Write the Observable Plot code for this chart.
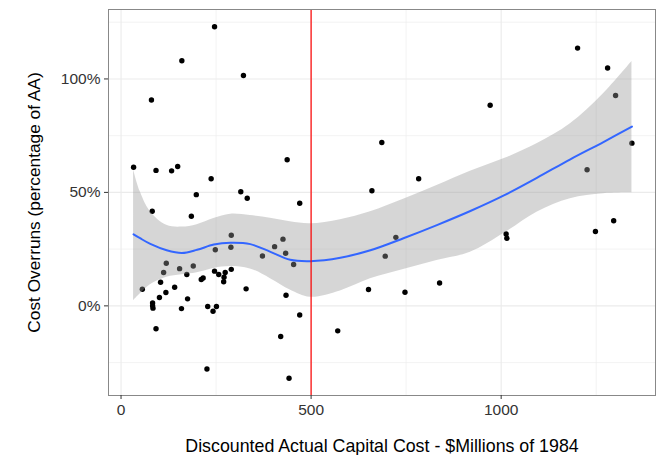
<!DOCTYPE html>
<html><head><meta charset="utf-8">
<script src="https://cdn.jsdelivr.net/npm/d3@7"></script>
<script src="https://cdn.jsdelivr.net/npm/@observablehq/plot@0.6"></script>
<style>body{margin:0;background:#fff}</style>
</head><body><div id="chart"></div>
<script>
// Scatter points: discounted actual capital cost ($M 1984) and cost overrun (%)
const cost = [246,160,322,80,33,92,133,149,437,237,198,315,332,82,185,470,290,289,248,426,404,433,372,454,119,112,154,173,190,211,216,246,257,271,274,270,290,329,434,56,104,118,141,101,175,83,83,84,159,228,251,242,470,92,420,226,442,660,783,723,695,651,747,838,570,686,1201,1280,1301,971,1344,1226,1013,1015,1248,1296];
const overrun = [123,108,101.5,90.7,61.1,59.7,59.5,61.4,64.4,56,49,50.3,47.4,41.7,39.5,45.2,31.1,25.8,24.7,29.4,26.1,23.2,22,18.2,18.8,14.7,16.4,13.8,17.6,11.6,12.3,15.3,13.8,12.6,14.7,10.6,16.1,7.5,4.7,7.3,10.4,5.9,8.2,3.7,3.1,1.3,0,-1,-1.2,-0.3,-0.3,-2.4,-4,-10.1,-13.5,-27.8,-31.9,50.7,56,30.2,21.9,7.2,6,10.1,-11,72,113.6,104.8,92.7,88.4,71.7,60,31.7,29.8,32.8,37.5];

// Smoothed fit with confidence band
const smoothX     = [33, 50, 77, 120, 160, 200, 244, 288, 340, 393, 445, 498, 577, 656, 743, 831, 919, 1010, 1094, 1182, 1269, 1344];
const smoothFit   = [31.5, 29.8, 27.3, 24.5, 23.3, 24.7, 27, 27.8, 27.2, 23.8, 20.3, 19.7, 21.2, 24.5, 29.8, 35.6, 41.8, 48.9, 56.4, 64.6, 72.2, 79];
const smoothLower = [2.3, 5.2, 9.3, 12.6, 13.7, 14.6, 16.5, 17.3, 16.3, 12, 7, 3.8, 6.6, 11.9, 16, 20, 23.6, 32.2, 41.3, 47.2, 49.4, 49.8];
const smoothUpper = [60, 50.5, 41.5, 35.5, 34.7, 35.8, 38.5, 40.4, 39.8, 38.6, 37.1, 36.2, 38, 41.5, 47, 53, 59.3, 65, 71.4, 80.2, 93.5, 107.7];

const xTicks = [0, 500, 1000];
const xMinor = [250, 750, 1250];
const yTicks = [0, 50, 100];
const yMinor = [-25, 25, 75, 125];
const threshold = [500];

const points = cost.map((c, i) => ({cost: c, overrun: overrun[i]}));
const smooth = smoothX.map((x, i) => ({x, fit: smoothFit[i], lower: smoothLower[i], upper: smoothUpper[i]}));

const chart = Plot.plot({
  width: 666, height: 455,
  marginLeft: 108, marginRight: 11, marginTop: 9, marginBottom: 60,
  style: {fontFamily: '"Liberation Sans", Arial, sans-serif', background: "#fff"},
  x: {domain: [-33, 1406]},
  y: {domain: [-39.5, 130.6]},
  marks: [
    Plot.ruleX(xMinor, {stroke: "#ebebeb", strokeWidth: 0.6}),
    Plot.ruleY(yMinor, {stroke: "#ebebeb", strokeWidth: 0.6}),
    Plot.ruleX(xTicks, {stroke: "#ebebeb", strokeWidth: 1.1}),
    Plot.ruleY(yTicks, {stroke: "#ebebeb", strokeWidth: 1.1}),
    Plot.dot(points, {x: "cost", y: "overrun", r: 2.7, fill: "black", stroke: null}),
    Plot.areaY(smooth, {x: "x", y1: "lower", y2: "upper", fill: "#999999", fillOpacity: 0.4, curve: "catmull-rom"}),
    Plot.line(smooth, {x: "x", y: "fit", stroke: "#3366FF", strokeWidth: 2, curve: "catmull-rom"}),
    Plot.ruleX(threshold, {stroke: "red", strokeWidth: 1.2}),
    Plot.frame({stroke: "#888888"}),
    Plot.axisX(xTicks, {tickSize: 4, tickPadding: 4, fontSize: 15.5, fill: "#333", stroke: "#333",
      tickFormat: d => String(d),
      label: "Discounted Actual Capital Cost - $Millions of 1984", labelAnchor: "center", labelOffset: 56, labelArrow: "none"}),
    Plot.axisY(yTicks, {tickSize: 4, tickPadding: 4, fontSize: 15.5, fill: "#333", stroke: "#333",
      tickFormat: d => d + "%",
      label: "Cost Overruns (percentage of AA)", labelAnchor: "center", labelOffset: 81, labelArrow: "none"})
  ]
});
document.getElementById("chart").appendChild(chart);
chart.querySelectorAll('g[aria-label="x-axis label"]').forEach(g => {
  g.setAttribute("font-size", "17.8");
  g.setAttribute("fill", "#000");
});
chart.querySelectorAll('g[aria-label="y-axis label"]').forEach(g => {
  g.setAttribute("font-size", "17.3");
  g.setAttribute("fill", "#000");
});
</script>
</body></html>
